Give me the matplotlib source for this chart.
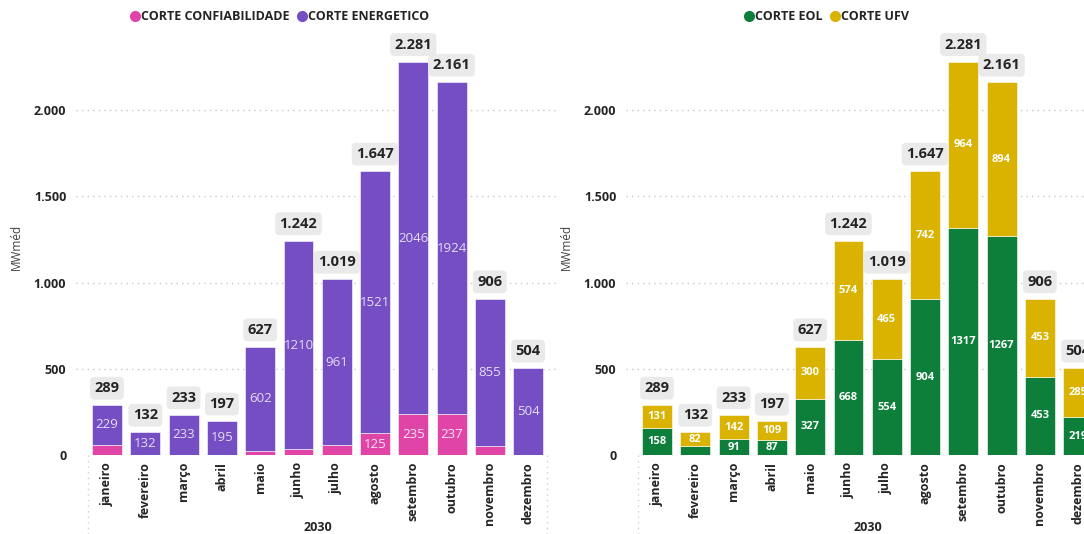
import matplotlib
matplotlib.use("Agg")
import matplotlib.pyplot as plt
from matplotlib.lines import Line2D

plt.rcParams['font.family'] = ['Open Sans', 'DejaVu Sans']

months = ["janeiro", "fevereiro", "março", "abril", "maio", "junho", "julho",
          "agosto", "setembro", "outubro", "novembro", "dezembro"]
year_label = "2030"

# Left chart
confiab = [60, 0, 0, 2, 25, 32, 58, 125, 235, 237, 51, 0]
energetico = [229, 132, 233, 195, 602, 1210, 961, 1521, 2046, 1924, 855, 504]
totals_left = [289, 132, 233, 197, 627, 1242, 1019, 1647, 2281, 2161, 906, 504]

# Right chart
eol = [158, 50, 91, 87, 327, 668, 554, 904, 1317, 1267, 453, 219]
ufv = [131, 82, 142, 109, 300, 574, 465, 742, 964, 894, 453, 285]
totals_right = [289, 132, 233, 197, 627, 1242, 1019, 1647, 2281, 2161, 906, 504]

yticks = [0, 500, 1000, 1500, 2000]

PURPLE = "#744EC2"
PINK = "#E044A7"
GREEN = "#0E7F3A"
YELLOW = "#D9B300"

W, H = 1084, 534
fig = plt.figure(figsize=(W / 100, H / 100), dpi=100)

def fmt(v):
    return f"{v:,}".replace(",", ".")

def make_axes(left_px):
    bottom_px = 455
    top_px = 40
    width_px = 482
    ax = fig.add_axes([left_px / W, (H - bottom_px) / H, width_px / W, (bottom_px - top_px) / H])
    return ax

def draw(ax, s1, s2, c1, c2, totals, lab1_color, lab2_color, lab_weight, lab_size, names, legend_x):
    x = list(range(len(months)))
    ax.set_xlim(-0.81, 11.78)
    ax.set_ylim(0, 2406)
    ax.bar(x, s1, width=0.78, color=c1, edgecolor="white", linewidth=0.4, zorder=3)
    ax.bar(x, s2, width=0.78, bottom=s1, color=c2, edgecolor="white", linewidth=0.4, zorder=3)
    for i in x:
        if s1[i] >= 80:
            ax.text(i, s1[i] / 2, str(s1[i]), ha="center", va="center", color=lab1_color,
                    fontsize=lab_size, fontweight=lab_weight, zorder=4)
        if s2[i] >= 80:
            ax.text(i, s1[i] + s2[i] / 2, str(s2[i]), ha="center", va="center", color=lab2_color,
                    fontsize=lab_size, fontweight=lab_weight, zorder=4)
        ax.annotate(fmt(totals[i]), xy=(i, s1[i] + s2[i]), xytext=(0, 10),
                    textcoords="offset pixels", ha="center", va="bottom",
                    fontsize=10.5, fontweight="bold", color="#252423", zorder=5,
                    bbox=dict(boxstyle="round,pad=0.3,rounding_size=0.3",
                              fc="#EAEAEA", ec="none"))
    ax.set_yticks(yticks)
    ax.set_yticklabels([fmt(v) for v in yticks], fontsize=9, fontweight="bold", color="#252423")
    ax.tick_params(axis="y", length=0, pad=7)
    ax.set_xticks(x)
    ax.set_xticklabels(months, rotation=90, fontsize=9, fontweight="bold", color="#252423")
    ax.tick_params(axis="x", length=0, pad=5)
    ax.grid(axis="y", linestyle=(0, (1, 3)), color="#C8C8C8", linewidth=1, zorder=0)
    for sp in ax.spines.values():
        sp.set_visible(False)
    ax.set_ylabel("MWméd", fontsize=8.5, color="#404040", labelpad=20)
    # separators below axis
    for xv in (-0.5, 11.5):
        ax.plot([xv, xv], [0, -0.19], transform=ax.get_xaxis_transform(),
                linestyle=(0, (1, 3)), color="#D0D0D0", linewidth=1, clip_on=False)
    ax.text(5.5, -0.175, year_label, transform=ax.get_xaxis_transform(),
            ha="center", va="center", fontsize=9, fontweight="bold", color="#252423")
    handles = [Line2D([0], [0], marker="o", linestyle="none", markersize=7,
                      markerfacecolor=c, markeredgecolor=c) for c in (c1, c2)]
    fig.legend(handles, names, loc="center", bbox_to_anchor=(legend_x / W, 1 - 17 / H),
               ncol=2, frameon=False, handletextpad=0.0, columnspacing=0.5,
               prop=dict(size=9, weight="bold"), labelcolor="#252423", handlelength=1.0)

axl = make_axes(76)
draw(axl, confiab, energetico, PINK, PURPLE, totals_left, "#F3E6F7", "#E6DDF6",
     "normal", 9.5, ["CORTE CONFIABILIDADE", "CORTE ENERGETICO"], 279)
axl.yaxis.set_label_coords(-(76 - 23) / 482, (455 - 247) / 415)

axr = make_axes(626)
draw(axr, eol, ufv, GREEN, YELLOW, totals_right, "white", "white",
     "bold", 8, ["CORTE EOL", "CORTE UFV"], 826)
axr.yaxis.set_label_coords(-(626 - 573) / 482, (455 - 247) / 415)

fig.savefig("out.png", dpi=100)
